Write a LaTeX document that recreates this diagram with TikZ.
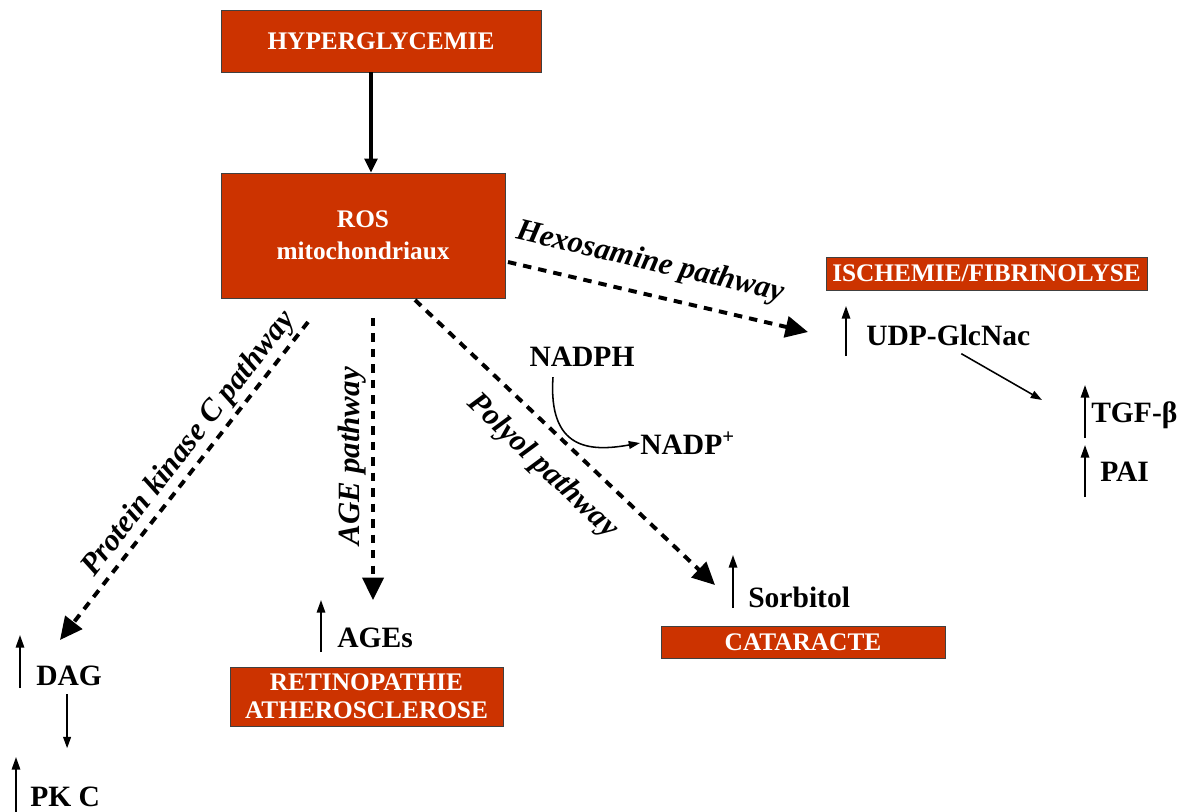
\documentclass[tikz,border=0pt]{standalone}
\usepackage{fontspec}
\setmainfont{Liberation Serif}
\usetikzlibrary{arrows.meta, positioning, calc}
\definecolor{rosred}{RGB}{204,51,0}

\begin{document}
\begin{tikzpicture}[
    x=0.025cm, y=-0.025cm,
    redbox/.style={draw=black!75, fill=rosred, text=white, align=center, inner sep=0pt,
      font=\fontsize{18}{23}\selectfont\bfseries},
    lbl/.style={anchor=west, inner sep=0pt, font=\fontsize{21}{24}\selectfont\bfseries},
    pathlbl/.style={inner sep=0pt, font=\fontsize{22}{25}\selectfont\bfseries\itshape},
    dasharr/.style={line width=2.8pt, dash pattern=on 6pt off 5pt,
      -{Triangle[length=16pt,width=15pt]}},
    mainarr/.style={line width=2.2pt, -{Triangle[length=10pt,width=9pt]}},
    thinarr/.style={line width=1.1pt, -{Triangle[length=8pt,width=5.5pt]}},
    uparr/.style={line width=1.3pt, -{Triangle[length=9pt,width=6pt]}},
  ]

  \useasboundingbox (0,0) rectangle (1194,811);

  % --- red boxes ---
  \node[redbox, minimum width=8cm, minimum height=1.55cm] (hyper) at (381,41) {HYPERGLYCEMIE};
  \node[redbox, minimum width=7.1cm, minimum height=3.125cm] (ros) at (363,235.5) {ROS\\mitochondriaux};
  \node[redbox, minimum width=8.025cm, minimum height=0.825cm] (ischemie) at (986.5,273.5) {ISCHEMIE/FIBRINOLYSE};
  \node[redbox, minimum width=7.1cm, minimum height=0.8cm] (cataracte) at (803,642) {CATARACTE};
  \node[redbox, minimum width=6.825cm, minimum height=1.475cm,
    font=\fontsize{18}{20}\selectfont\bfseries] (retino) at (366.5,696.5) {RETINOPATHIE\\ATHEROSCLEROSE};

  % --- metabolites ---
  \node[lbl, anchor=center] (nadph) at (582,357) {NADPH};
  \node[lbl] (nadp) at (640,443) {NADP\textsuperscript{+}};
  \node[lbl] (udp) at (866,335) {UDP-GlcNac};
  \node[lbl] (tgf) at (1091,415) {TGF-β};
  \node[lbl] (pai) at (1100,472) {PAI};
  \node[lbl] (sorbitol) at (748,597) {Sorbitol};
  \node[lbl] (ages) at (337,638) {AGEs};
  \node[lbl] (dag) at (36,676) {DAG};
  \node[lbl] (pkc) at (30,797) {PK C};

  % --- increase arrows ---
  \draw[uparr] ($(udp.west)+(-20,21)$) -- ($(udp.west)+(-20,-29)$);
  \draw[uparr] ($(tgf.west)+(-6,23)$) -- ($(tgf.west)+(-6,-30)$);
  \draw[uparr] ($(pai.west)+(-15,25)$) -- ($(pai.west)+(-15,-27)$);
  \draw[uparr] ($(sorbitol.west)+(-15,11)$) -- ($(sorbitol.west)+(-15,-42)$);
  \draw[uparr] ($(ages.west)+(-16,14)$) -- ($(ages.west)+(-16,-38)$);
  \draw[uparr] ($(dag.west)+(-16,12)$) -- ($(dag.west)+(-16,-41)$);
  \draw[uparr] ($(pkc.west)+(-14,20)$) -- ($(pkc.west)+(-14,-40)$);

  % --- pathway ends ---
  \coordinate (axis) at (371,0);
  \coordinate (hexstart) at (508,262);
  \coordinate (hexend) at (808,332);
  \coordinate (polstart) at (415,300);
  \coordinate (polend) at (715,585);
  \coordinate (agestart) at (373,318);
  \coordinate (ageend) at (373,600);
  \coordinate (pkcstart) at (308,322);
  \coordinate (pkcend) at (60,640);

  % --- connectors ---
  \draw[mainarr] (hyper.south -| axis) -- (ros.north -| axis);
  \draw[dasharr] (hexstart) -- (hexend)
    node[pathlbl, sloped, pos=0.45, above=11pt] {Hexosamine pathway};
  \draw[dasharr] (polstart) -- (polend)
    node[pathlbl, sloped, pos=0.5, below=12pt] {Polyol pathway};
  \draw[dasharr] (agestart) -- (ageend)
    node[pathlbl, pos=0.49, rotate=90, anchor=south, outer sep=5pt] {AGE pathway};
  \draw[dasharr] (pkcstart) -- (pkcend)
    node[pathlbl, sloped, pos=0.42, above=2pt] {Protein kinase C pathway};

  \draw[thinarr] ($(nadph.south)+(-29,10)$) .. controls (548,450) and (590,452) .. (nadp.west);
  \draw[thinarr] ($(udp.south)+(13,8)$) -- ($(tgf.west)+(-49,-15)$);
  \draw[thinarr] ($(dag.south)+(-2,8)$) -- ($(dag.south)+(-2,62)$);

\end{tikzpicture}
\end{document}
